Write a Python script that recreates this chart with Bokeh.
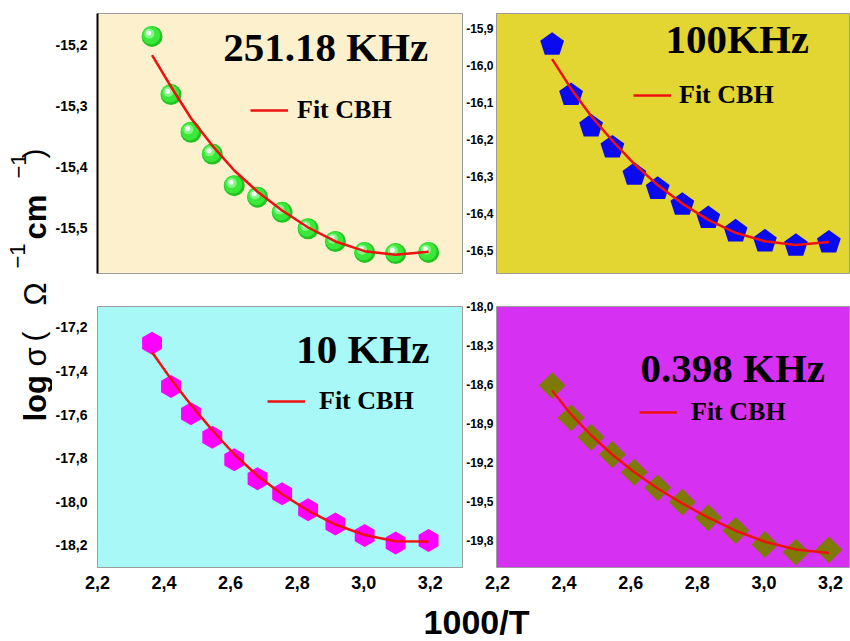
import math

from bokeh.embed import file_html
from bokeh.layouts import column, row
from bokeh.models import (ColumnDataSource, CustomJSTickFormatter, FixedTicker,
                          Label, Legend, LegendItem, Range1d)
from bokeh.plotting import figure
from bokeh.resources import INLINE
from bokeh.transform import dodge

# 1000/T (K^-1), T = 423 K ... 313 K
inv_T = [2.364, 2.421, 2.481, 2.545, 2.611, 2.681, 2.755, 2.833, 2.915, 3.003, 3.096, 3.195]

# log sigma at 251.18 kHz
sig_251k = [-15.185, -15.281, -15.343, -15.379, -15.431, -15.450, -15.475, -15.502,
            -15.523, -15.541, -15.543, -15.541]
fit_251k = [-15.216, -15.268, -15.320, -15.365, -15.406, -15.441, -15.472, -15.500,
            -15.523, -15.539, -15.545, -15.540]

# log sigma at 100 kHz
sig_100k = [-15.943, -16.079, -16.164, -16.221, -16.295, -16.333, -16.376, -16.412,
            -16.448, -16.475, -16.487, -16.478]
fit_100k = [-15.982, -16.062, -16.136, -16.203, -16.266, -16.323, -16.373, -16.417,
            -16.452, -16.475, -16.485, -16.477]

# log sigma at 10 kHz
sig_10k = [-17.273, -17.472, -17.597, -17.704, -17.807, -17.894, -17.963, -18.036,
           -18.101, -18.154, -18.189, -18.177]
fit_10k = [-17.315, -17.438, -17.556, -17.672, -17.782, -17.880, -17.965, -18.040,
           -18.104, -18.152, -18.181, -18.182]

# log sigma at 0.398 kHz
sig_0398k = [-18.608, -18.856, -19.005, -19.138, -19.275, -19.395, -19.505, -19.625,
             -19.723, -19.831, -19.890, -19.872]
fit_0398k = [-18.646, -18.830, -18.990, -19.140, -19.275, -19.400, -19.515, -19.625,
             -19.725, -19.810, -19.870, -19.897]

x_ticks = [2.2, 2.4, 2.6, 2.8, 3.0, 3.2]
y_ticks_251k = [-15.5, -15.4, -15.3, -15.2]
y_ticks_100k = [-16.5, -16.4, -16.3, -16.2, -16.1, -16.0, -15.9]
y_ticks_10k = [-18.2, -18.0, -17.8, -17.6, -17.4, -17.2]
y_ticks_0398k = [-19.8, -19.5, -19.2, -18.9, -18.6, -18.3, -18.0]

freq_labels = ["251.18 KHz", "100KHz", "10 KHz", "0.398 KHz"]
fit_name = "Fit CBH"

COMMA = "return tick.toFixed(1).replace('.', ',');"
FIT_RED = "#ee1111"


def make_panel(width, height, xr, yr, yticks, bg, left, top, bottom, with_x,
               ylab_size, ylab_standoff, black_spine=False):
    p = figure(width=width, height=height, x_range=Range1d(*xr), y_range=Range1d(*yr),
               output_backend="svg", toolbar_location=None, title=None,
               x_axis_location="below" if with_x else None,
               min_border_left=left, min_border_right=0,
               min_border_top=top, min_border_bottom=bottom,
               background_fill_color=bg, border_fill_color="white",
               outline_line_color="#9c9c9c", outline_line_width=1)
    p.grid.visible = False
    ya = p.yaxis[0]
    ya.ticker = FixedTicker(ticks=yticks)
    ya.formatter = CustomJSTickFormatter(code=COMMA)
    ya.major_tick_in = 0
    ya.major_tick_out = 0
    ya.minor_tick_in = 0
    ya.minor_tick_out = 0
    ya.major_tick_line_color = None
    ya.minor_tick_line_color = None
    if black_spine:
        ya.axis_line_color = "black"
        ya.axis_line_width = 2
    else:
        ya.axis_line_color = None
    ya.major_label_text_font = "Liberation Sans"
    ya.major_label_text_font_style = "bold"
    ya.major_label_text_font_size = f"{ylab_size}px"
    ya.major_label_text_color = "black"
    ya.major_label_standoff = ylab_standoff
    if with_x:
        xa = p.xaxis[0]
        xa.ticker = FixedTicker(ticks=x_ticks)
        xa.formatter = CustomJSTickFormatter(code=COMMA)
        xa.major_tick_in = 0
        xa.major_tick_out = 0
        xa.minor_tick_in = 0
        xa.minor_tick_out = 0
        xa.major_tick_line_color = None
        xa.minor_tick_line_color = None
        xa.axis_line_color = None
        xa.major_label_text_font = "Liberation Sans"
        xa.major_label_text_font_style = "bold"
        xa.major_label_text_font_size = "18px"
        xa.major_label_text_color = "black"
        xa.major_label_standoff = 8
    return p


def add_fit(p, ys, loc, standoff):
    r = p.line(inv_T, ys, line_color=FIT_RED, line_width=2.5)
    leg = Legend(items=[LegendItem(label=fit_name, renderers=[r])], location=loc,
                 label_text_font="Liberation Serif", label_text_font_style="bold",
                 label_text_font_size="26px", label_text_color="black",
                 glyph_width=38, glyph_height=30, label_height=30,
                 label_standoff=standoff, padding=0, margin=0, spacing=0,
                 background_fill_alpha=0, border_line_color=None)
    p.add_layout(leg)


def add_freq(p, text, x, y):
    p.add_layout(Label(x=x, y=y, text=text, text_font="Liberation Serif",
                       text_font_style="bold", text_font_size="41px",
                       text_color="black", text_align="left",
                       text_baseline="middle"))


# ---- 251.18 kHz : shaded green spheres ----
p1 = make_panel(411, 290, (2.2, 3.3), (-15.5758, -15.1473), y_ticks_251k, "#fcf1cc",
                45, 13, 17, False, 14, 10, black_spine=True)
src1 = ColumnDataSource(dict(x=inv_T, y=sig_251k))
p1.scatter("x", "y", source=src1, size=21, fill_color="#22c422", line_color=None)
p1.scatter(dodge("x", -0.003), dodge("y", 0.0017), source=src1, size=18,
           fill_color="#3ae83a", line_color=None)
p1.scatter(dodge("x", -0.008), dodge("y", 0.0045), source=src1, size=10,
           fill_color="#86f586", line_color=None)
p1.scatter(dodge("x", -0.010), dodge("y", 0.0056), source=src1, size=5,
           fill_color="#f4fff4", line_color=None)
add_fit(p1, fit_251k, (153, 148), 9)
add_freq(p1, freq_labels[0], 2.578, -15.2025)

# ---- 100 kHz : blue pentagons ----
p2 = make_panel(387, 290, (2.197, 3.26), (-16.5622, -15.8586), y_ticks_100k, "#e3d633",
                33, 13, 17, False, 12, 3)
p2.ngon(x=inv_T, y=sig_100k, radius=12.5, radius_units="screen", n=5,
        angle=0, fill_color="#0a0aee", line_color=None)
add_fit(p2, fit_100k, (137, 163), 8)
add_freq(p2, freq_labels[1], 2.7045, -15.9276)

# ---- 10 kHz : magenta hexagons ----
p3 = make_panel(411, 307, (2.2, 3.3), (-18.3008, -17.1052), y_ticks_10k, "#a8f8f8",
                45, 16, 30, True, 14, 10)
p3.scatter(inv_T, sig_10k, marker="hex", size=23, angle=math.pi / 2,
           fill_color="#ff00ff", line_color=None)
add_fit(p3, fit_10k, (170, 151), 14)
add_freq(p3, freq_labels[2], 2.7976, -17.2976)

# ---- 0.398 kHz : olive diamonds ----
p4 = make_panel(387, 307, (2.197, 3.26), (-20.008, -17.999), y_ticks_0398k, "#d630f3",
                33, 16, 30, True, 12, 3)
p4.scatter(inv_T, sig_0398k, marker="square", size=19, angle=math.pi / 4,
           fill_color="#7f7a06", line_color=None)
add_fit(p4, fit_0398k, (143, 140), 14)
add_freq(p4, freq_labels[3], 2.6294, -18.469)

# ---- shared axis titles ----
yt = figure(width=52, height=641, x_range=Range1d(0, 52), y_range=Range1d(641, 0),
            x_axis_type=None, y_axis_type=None, output_backend="svg",
            toolbar_location=None, title=None, min_border=0,
            outline_line_color=None, background_fill_color="white",
            border_fill_color="white")
# (text, centre x, start y, size, style) -- read bottom to top
title_parts = [
    ("log", 35, 421, "31px", "bold"),
    ("σ", 35, 366, "31px", "normal"),
    ("(", 33, 341, "30px", "normal"),
    ("Ω", 35, 305, "31px", "normal"),
    ("\u22121", 17, 268, "22px", "normal"),
    ("cm", 35, 239, "31px", "bold"),
    ("\u22121", 18, 178, "22px", "normal"),
    (")", 33, 158, "30px", "normal"),
]
for txt, cx, sy, fs, st in title_parts:
    yt.add_layout(Label(x=cx, y=sy, text=txt, angle=math.pi / 2,
                        text_font="Liberation Sans", text_font_style=st,
                        text_font_size=fs, text_color="black",
                        text_align="left", text_baseline="middle"))

xt = figure(width=798, height=44, x_range=Range1d(52, 850), y_range=Range1d(641, 597),
            x_axis_type=None, y_axis_type=None, output_backend="svg",
            toolbar_location=None, title=None, min_border=0,
            outline_line_color=None, background_fill_color="white",
            border_fill_color="white")
xt.add_layout(Label(x=476, y=621, text="1000/T", text_font="Liberation Sans",
                    text_font_style="bold", text_font_size="34px", text_color="black",
                    text_align="center", text_baseline="middle"))

page = row(yt, column(row(p1, p2), row(p3, p4), xt))

with open("out.html", "w") as f:
    f.write(file_html(page, INLINE))
